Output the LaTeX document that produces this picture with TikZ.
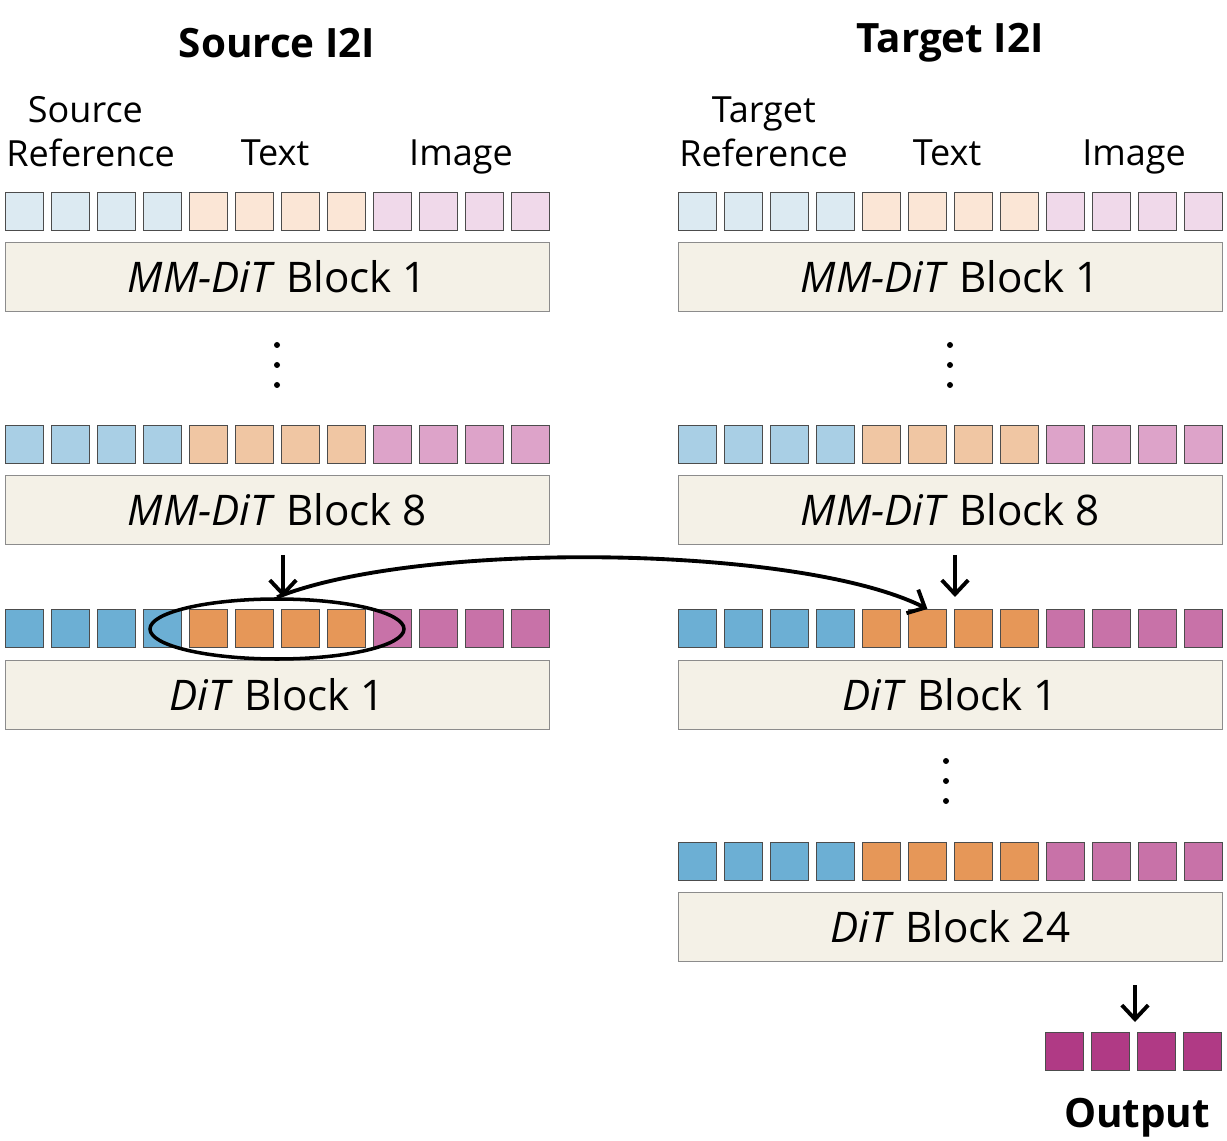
\documentclass[tikz,border=0pt]{standalone}
\usepackage{fontspec}
\setmainfont{Open Sans}
\usetikzlibrary{arrows.meta,shapes.geometric}
\definecolor{refA}{HTML}{DCEAF2}\definecolor{txtA}{HTML}{FBE6D6}\definecolor{imgA}{HTML}{F0D9EA}
\definecolor{refB}{HTML}{A9CFE5}\definecolor{txtB}{HTML}{F0C6A3}\definecolor{imgB}{HTML}{DDA3C9}
\definecolor{refC}{HTML}{6CAFD4}\definecolor{txtC}{HTML}{E69758}\definecolor{imgC}{HTML}{C872A8}
\definecolor{outC}{HTML}{B03A85}\definecolor{blockfill}{HTML}{F4F1E7}
\tikzset{
  token/.style={draw=black!70, line width=0.5pt, minimum width=38*0.02cm, minimum height=38*0.02cm, inner sep=0pt, anchor=north west},
  block/.style={draw=black!45, fill=blockfill, line width=0.5pt, minimum width=544*0.02cm, minimum height=69*0.02cm, inner sep=0pt, anchor=north west, font=\fontsize{24}{28}\selectfont},
  lbl/.style={font=\fontsize{20.5}{25}\selectfont, inner sep=0pt},
  ttl/.style={font=\fontsize{23}{27}\selectfont\bfseries, inner sep=0pt},
  dot/.style={fill=black, circle, inner sep=0pt, minimum size=6*0.02cm},
  down/.style={-{Straight Barb[length=8pt,width=15pt]}, line width=2.2pt}
}
% row of 12 tokens: x, y, ref colour, text colour, image colour, name
\newcommand{\tokrow}[6]{
  \foreach \i in {0,...,11}{
    \ifnum\i<4 \def\c{#3}\else\ifnum\i<8 \def\c{#4}\else\def\c{#5}\fi\fi
    \node[token, fill=\c] (#6\i) at ({#1+46*\i}, #2) {};
  }
}
% vertical dots: x, top y, name
\newcommand{\vdotsat}[3]{
  \foreach \k in {0,1,2}
    \node[dot] (#3\k) at (#1, {#2+20*\k}) {};
}
\begin{document}
\begin{tikzpicture}[x=0.02cm, y=-0.02cm]
  \useasboundingbox (0,0) rectangle (1227,1141);

  % Titles:
  \node[ttl] (srctitle) at (277,43) {Source I2I};
  \node[ttl] (tgttitle) at (950,43) {Target I2I};

  % Labels:
  \node[lbl, anchor=west, align=left] (srcref) at (6,132) {\hspace*{0.6em}Source\\Reference};
  \node[lbl, anchor=base] (srctxt) at (275,166) {Text};
  \node[lbl, anchor=base] (srcimg) at (461,166) {Image};
  \node[lbl, anchor=west, align=left] (tgtref) at (679,132) {\hspace*{0.9em}Target\\Reference};
  \node[lbl, anchor=base] (tgttxt) at (947,166) {Text};
  \node[lbl, anchor=base] (tgtimg) at (1134,166) {Image};

  % Source side
  \tokrow{5}{192}{refA}{txtA}{imgA}{sa}
  \node[block] (sb1) at (5,242) {\textit{MM-DiT} Block 1};
  \vdotsat{277}{345}{sdot}
  \tokrow{5}{425}{refB}{txtB}{imgB}{sb}
  \node[block] (sb8) at (5,475) {\textit{MM-DiT} Block 8};
  \tokrow{5}{609}{refC}{txtC}{imgC}{sc}
  \node[block] (sd1) at (5,660) {\textit{DiT} Block 1};

  % Target side
  \tokrow{678}{192}{refA}{txtA}{imgA}{ta}
  \node[block] (tb1) at (678,242) {\textit{MM-DiT} Block 1};
  \vdotsat{950}{345}{tdot}
  \tokrow{678}{425}{refB}{txtB}{imgB}{tb}
  \node[block] (tb8) at (678,475) {\textit{MM-DiT} Block 8};
  \tokrow{678}{609}{refC}{txtC}{imgC}{tc}
  \node[block] (td1) at (678,660) {\textit{DiT} Block 1};
  \vdotsat{946}{761}{udot}
  \tokrow{678}{842}{refC}{txtC}{imgC}{td}
  \node[block] (td24) at (678,892) {\textit{DiT} Block 24};

  % Output
  \foreach \i in {0,...,3}
    \node[token, fill=outC] (out\i) at ({1045+46*\i}, 1032) {};
  \node[ttl] (outlbl) at (1137,1118) {Output};

  % Ellipse and arrows
  \node[draw, ellipse, line width=2pt, minimum width=254*0.02cm, minimum height=60*0.02cm] (sel) at (277,629) {};
  \coordinate (sdown) at (283,555);
  \coordinate (tdown) at (955,555);
  \coordinate (odown) at (1135,985);
  \coordinate (oend) at (1135,1022);
  \draw[down] (sdown) -- (283,597);
  \draw[down] (tdown) -- (955,597);
  \draw[down] (odown) -- (oend);
  \draw[down] (sel.north) .. controls (420,540) and (800,545) .. (tc5.north);
\end{tikzpicture}
\end{document}
